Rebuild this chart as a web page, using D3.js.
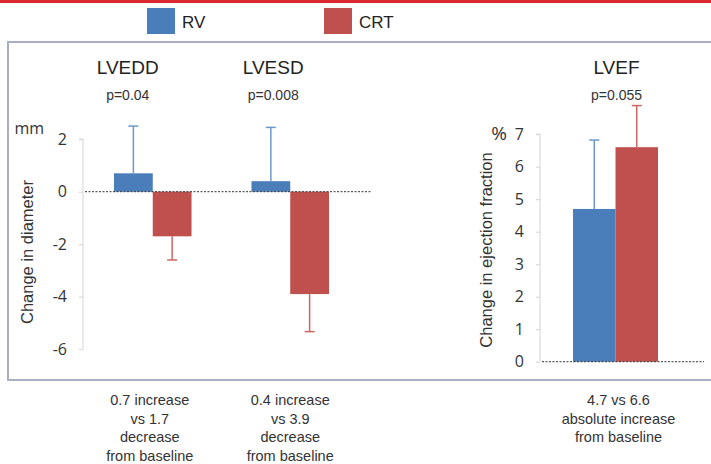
<!DOCTYPE html>
<html>
<head>
<meta charset="utf-8">
<script src="https://cdn.jsdelivr.net/npm/d3@7"></script>
<style>
  html, body { margin: 0; padding: 0; background: #fff; }
  svg { display: block; }
</style>
</head>
<body>
<svg id="chart" width="711" height="464"></svg>
<script>
// ---- data ----
const series = ["RV", "CRT"];
const colors = ["#4a7ebb", "#c0504d"];
const errColors = ["#6e98cc", "#cc6664"];

const diamCategories = ["LVEDD", "LVESD"];
const diamPValues = ["p=0.04", "p=0.008"];
const diamRV = [0.7, 0.4];
const diamCRT = [-1.7, -3.9];
const diamRVErr = [2.5, 2.45];    // end of error bar
const diamCRTErr = [-2.6, -5.33];
const diamTicks = [2, 0, -2, -4, -6];
const diamNotes = [
  ["0.7 increase", "vs 1.7", "decrease", "from baseline"],
  ["0.4 increase", "vs 3.9", "decrease", "from baseline"]
];

const efCategories = ["LVEF"];
const efPValues = ["p=0.055"];
const efRV = [4.7];
const efCRT = [6.6];
const efRVErr = [6.82];
const efCRTErr = [7.88];
const efTicks = [0, 1, 2, 3, 4, 5, 6, 7];
const efNotes = [["4.7 vs 6.6", "absolute increase", "from baseline"]];

// ---- drawing ----
const svg = d3.select("#chart");
const tickFont = "'Open Sans', 'Noto Sans', sans-serif";
const txtFont = "'Liberation Sans', Arial, sans-serif";

// top red rule
svg.append("rect").attr("x", 0).attr("y", 0).attr("width", 711).attr("height", 3).attr("fill", "#d92a2e");

// legend
const legX = [147, 324];
series.forEach((s, i) => {
  svg.append("rect").attr("x", legX[i]).attr("y", 8).attr("width", 28).attr("height", 26).attr("fill", colors[i]);
  svg.append("text").attr("x", legX[i] + 35).attr("y", 28).attr("font-family", txtFont)
    .attr("font-size", 17).attr("fill", "#222").text(s);
});

// frame
svg.append("rect").attr("x", 8).attr("y", 42).attr("width", 720).attr("height", 338)
  .attr("fill", "none").attr("stroke", "#a9b0c6").attr("stroke-width", 2);

function panel(opts) {
  const y = d3.scaleLinear().domain(opts.domain).range(opts.range);
  const x = d3.scaleBand().domain(opts.categories).range(opts.xRange)
    .paddingInner(opts.pi).paddingOuter(opts.po);
  const xs = d3.scaleBand().domain(series).range([0, x.bandwidth()]);

  // axis
  const ax = svg.append("g").attr("transform", `translate(${opts.axisX},0)`)
    .call(d3.axisLeft(y).tickValues(opts.ticks).tickSize(4).tickPadding(12)
      .tickFormat(d => (d < 0 ? "-" : "") + Math.abs(d)));
  ax.select(".domain").attr("stroke", "#d4d4d4").attr("d", `M-4,${y(opts.domain[1])}H0V${y(opts.domain[0])}`);
  ax.selectAll(".tick line").attr("stroke", "#d4d4d4");
  ax.selectAll(".tick text").attr("font-family", tickFont).attr("font-size", 16).attr("fill", "#333");

  const data = opts.categories.map((c, i) => ({
    c, vals: [opts.rv[i], opts.crt[i]], errs: [opts.rvErr[i], opts.crtErr[i]]
  }));

  const g = svg.append("g");
  data.forEach(d => {
    series.forEach((s, si) => {
      const v = d.vals[si];
      const bx = x(d.c) + xs(s);
      g.append("rect").attr("x", bx).attr("width", xs.bandwidth())
        .attr("y", y(Math.max(0, v))).attr("height", Math.abs(y(v) - y(0)))
        .attr("fill", colors[si]);
      const cx = bx + xs.bandwidth() / 2;
      g.append("line").attr("x1", cx).attr("x2", cx).attr("y1", y(v)).attr("y2", y(d.errs[si]))
        .attr("stroke", errColors[si]).attr("stroke-width", 1.5);
      g.append("line").attr("x1", cx - 5).attr("x2", cx + 5).attr("y1", y(d.errs[si])).attr("y2", y(d.errs[si]))
        .attr("stroke", errColors[si]).attr("stroke-width", 1.5);
    });
  });

  // zero dashed line
  svg.append("line").attr("x1", opts.axisX + 2).attr("x2", opts.zeroEnd).attr("y1", y(0)).attr("y2", y(0))
    .attr("stroke", "#333").attr("stroke-width", 1).attr("stroke-dasharray", "2,1.5");

  // titles & p values & notes
  data.forEach((d, i) => {
    const cx = x(d.c) + x.bandwidth() / 2 + (opts.titleShift ? opts.titleShift[i] : 0);
    svg.append("text").attr("x", cx).attr("y", 74).attr("text-anchor", "middle")
      .attr("font-family", txtFont).attr("font-size", 19).attr("fill", "#222").text(d.c);
    svg.append("text").attr("x", cx).attr("y", 100).attr("text-anchor", "middle")
      .attr("font-family", txtFont).attr("font-size", 14).attr("fill", "#333").text(opts.pvals[i]);
    const nx = x(d.c) + x.bandwidth() / 2 + opts.noteShift[i];
    opts.notes[i].forEach((line, li) => {
      svg.append("text").attr("x", nx).attr("y", 405 + li * 18.5).attr("text-anchor", "middle")
        .attr("font-family", txtFont).attr("font-size", 14.5).attr("fill", "#333").text(line);
    });
  });

  // unit label
  svg.append("text").attr("x", opts.unitX).attr("y", opts.unitY).attr("text-anchor", "end")
    .attr("font-family", tickFont).attr("font-size", opts.unitSize).attr("fill", "#333").text(opts.unit);

  // y title
  svg.append("text").attr("transform", `translate(${opts.titleX},${opts.titleY}) rotate(-90)`)
    .attr("text-anchor", "middle").attr("font-family", txtFont).attr("font-size", 16.5)
    .attr("fill", "#333").text(opts.yTitle);
}

panel({
  categories: diamCategories, pvals: diamPValues,
  rv: diamRV, crt: diamCRT, rvErr: diamRVErr, crtErr: diamCRTErr,
  domain: [-6, 2], range: [349.2, 139.2], ticks: diamTicks,
  xRange: [84.5, 358.5], pi: 0.436, po: 0.2145, axisX: 83, zeroEnd: 372,
  titleShift: [-25, -17], noteShift: [-3, 0],
  notes: diamNotes, unit: "mm", unitX: 44, unitY: 134, unitSize: 16,
  yTitle: "Change in diameter", titleX: 33, titleY: 252
});

panel({
  categories: efCategories, pvals: efPValues,
  rv: efRV, crt: efCRT, rvErr: efRVErr, crtErr: efCRTErr,
  domain: [0, 7], range: [361.7, 134.2], ticks: efTicks,
  xRange: [540, 691], pi: 0, po: 0.388, axisX: 540, zeroEnd: 704,
  titleShift: [1], noteShift: [3],
  notes: efNotes, unit: "%", unitX: 507, unitY: 140, unitSize: 19,
  yTitle: "Change in ejection fraction", titleX: 492, titleY: 250
});
</script>
</body>
</html>
